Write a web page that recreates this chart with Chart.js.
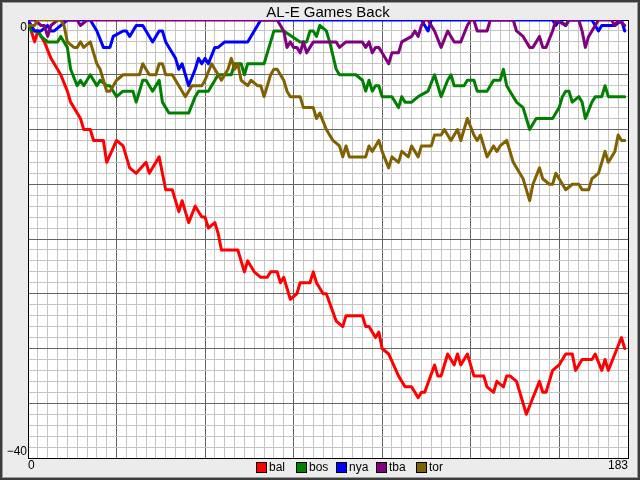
<!DOCTYPE html>
<html>
<head>
<meta charset="utf-8">
<script src="https://cdn.jsdelivr.net/npm/chart.js@4/dist/chart.umd.min.js"></script>
<style>
  html, body { margin: 0; padding: 0; background: #ececec; }
  canvas { display: block; }
</style>
</head>
<body>
<canvas id="gb-chart" width="640" height="480"></canvas>
<script>
// games back per team, [game, games back]
const bal = [[0,0],[1,-1],[2,-2],[3,-1],[5,-2],[7,-3.5],[10,-5],[12,-6.5],[13,-7.5],[16,-9],[17,-10],[19,-10],[20,-11],[23,-11],[24,-13],[27,-11],[29,-11.5],[31,-13.5],[33,-14],[36,-13],[37,-14],[38,-13.5],[40,-12.5],[42,-15.5],[44,-15.5],[46,-17.5],[47,-16.5],[49,-18.5],[51,-17],[53,-18],[54,-18],[55,-19],[57,-18.5],[58,-19.5],[59,-21],[64,-21],[66,-23],[67,-22],[69,-23],[71,-23.5],[73,-23.5],[74,-23],[76,-23],[77,-24],[78,-23.5],[80,-25.5],[82,-25],[83,-24],[86,-24],[87,-23],[88,-24],[90,-25],[91,-25],[94,-27.5],[96,-28],[97,-27],[102,-27],[103,-28],[104,-28],[106,-29],[107,-28.5],[108,-30],[110,-30.5],[113,-32.5],[115,-33.5],[117,-33.5],[119,-34.5],[120,-34],[121,-34],[124,-31.5],[125,-32.5],[126,-32.5],[128,-30.5],[130,-31.5],[131,-30.5],[132,-31.5],[134,-30.5],[136,-32.5],[139,-32.5],[140,-33.5],[142,-34],[143,-33],[145,-33.5],[146,-32.5],[147,-32.5],[149,-33],[152,-36],[154,-34.5],[156,-33],[157,-34],[158,-34],[160,-32],[162,-31.5],[164,-30.5],[166,-30.5],[167,-32],[169,-31],[172,-31],[173,-30.5],[175,-32],[176,-31],[177,-32],[179,-30.5],[181,-29],[182,-30]];
const bos = [[0,0],[1,-1],[2,-1],[3,-1],[4,-1.5],[6,-2],[7,-2],[9,-2],[10,-1.5],[11,-2],[12,-2.5],[13,-4.5],[15,-6],[16,-5.5],[17,-6],[19,-5],[20,-5.5],[21,-6],[22,-5.5],[24,-6],[25,-6],[27,-7],[29,-6.5],[32,-6.5],[33,-7.5],[35,-5.5],[36,-5.5],[37,-6],[38,-6.5],[40,-5.5],[41,-7.5],[43,-8.5],[49,-8.5],[51,-7],[52,-6.5],[53,-6.5],[55,-6.5],[56,-6],[58,-5],[62,-5],[63,-4],[65,-4],[66,-5],[67,-4],[72,-4],[74,-2],[75,-1],[78,-1],[83,-2],[85,-2],[86,-1],[87,-1],[88,-1.5],[89,-0.5],[91,-1],[92,-2],[94,-4.5],[95,-5],[100,-5],[102,-5.5],[103,-6.5],[104,-5.5],[105,-6.5],[106,-6],[107,-6],[108,-7],[111,-7],[113,-8],[114,-7],[115,-7.5],[117,-7.5],[119,-7],[122,-6.5],[124,-5],[125,-6],[126,-7],[128,-5.5],[129,-5],[130,-6],[133,-6],[134,-5.5],[136,-5.5],[137,-6.5],[140,-6.5],[141,-6],[142,-5.5],[144,-5.5],[145,-4.5],[146,-6],[147,-6.5],[149,-7.5],[151,-8],[152,-9],[153,-10],[155,-9],[160,-9],[162,-8],[163,-7],[164,-6.5],[165,-6.5],[166,-7.5],[168,-7],[169,-7.5],[170,-9],[172,-7.5],[173,-7],[175,-7],[176,-6],[177,-7],[182,-7]];
const nya = [[0,0],[1,-0.5],[2,-1],[4,-1],[6,-0.5],[7,-1],[8,-1],[10,-0.5],[12,0],[19,0],[21,-1],[23,-2.5],[25,-2.5],[26,-1.5],[29,-1],[30,-1],[31,-1.5],[33,-0.5],[35,-0.5],[36,-1],[38,-2],[40,-1],[41,-1],[42,-2],[45,-3.5],[46,-4.5],[47,-4],[49,-6],[51,-4.5],[52,-3.5],[53,-4],[54,-3.5],[55,-4],[57,-2.5],[58,-2.5],[60,-2],[67,-2],[68,-1.5],[69,-1],[70,-0.5],[71,0],[120,0],[121,-0.5],[122,-1],[123,0],[160,0],[161,-0.5],[162,0],[164,-0.5],[165,0],[172,0],[174,-1],[175,-0.5],[179,-0.5],[181,0],[182,-1]];
const tba = [[0,0],[2,0],[4,-0.5],[5,-0.5],[6,-1.5],[7,-0.5],[9,0],[15,0],[16,-0.5],[18,0],[76,0],[77,-0.5],[78,-1],[79,-2.5],[80,-2],[81,-2.5],[82,-2.5],[83,-3],[84,-2],[85,-3],[86,-2.5],[87,-2],[94,-2],[95,-2.5],[97,-2],[102,-2],[103,-2.5],[104,-2],[105,-3],[106,-2.5],[107,-2.5],[108,-3],[110,-4],[111,-3],[113,-3],[114,-2],[117,-1.5],[118,-1],[119,-1.5],[120,-0.5],[121,0],[122,0],[123,-0.5],[124,-1],[126,-2.5],[128,-1],[129,-1.5],[130,-2],[132,-2],[134,-0.5],[135,0],[136,0],[137,-1],[140,-1],[141,0],[148,0],[149,-1],[151,-1.5],[153,-2.5],[154,-2.5],[156,-1.5],[157,-2.5],[158,-2.5],[160,-1],[161,0],[164,-0.5],[165,0],[168,0],[169,-1],[170,-2.5],[171,-1.5],[173,-0.5],[174,0],[178,0],[179,-0.5],[180,0],[182,-0.5]];
const tor = [[0,-0.5],[1,-0.5],[2,-0.5],[3,0],[5,0],[7,0],[10,0],[11,-0.5],[12,-2],[14,-2.5],[15,-2.5],[16,-2],[17,-2.5],[19,-2],[20,-3],[21,-4],[22,-4.5],[23,-5.5],[24,-6.5],[25,-6.5],[26,-6],[27,-5.5],[29,-5],[34,-5],[35,-4],[36,-4.5],[37,-5],[39,-5],[40,-4],[41,-4],[42,-5],[44,-5],[46,-6],[48,-7],[50,-6],[51,-6],[52,-6],[53,-6],[54,-5.5],[56,-4],[57,-4.5],[58,-5],[59,-5.5],[61,-4.5],[62,-3.5],[63,-4.5],[64,-4],[65,-5.5],[67,-6],[68,-5.5],[70,-6],[71,-6],[72,-7],[73,-6],[74,-5],[75,-4.5],[76,-4.5],[77,-5],[78,-5.5],[79,-6.5],[80,-7],[82,-7],[83,-7],[84,-8],[87,-8],[88,-9],[89,-8.5],[91,-10],[93,-11],[95,-11.5],[96,-12.5],[97,-11.5],[98,-12.5],[103,-12.5],[104,-11.5],[105,-12],[107,-11],[108,-12],[110,-13.5],[111,-12.5],[113,-13],[114,-12],[116,-12.5],[117,-11.5],[119,-12.5],[120,-11.5],[123,-11.5],[124,-10.5],[126,-10.5],[127,-10],[128,-10.5],[129,-11],[131,-10],[132,-11],[134,-9],[136,-10.5],[137,-11],[138,-10.5],[139,-11.5],[140,-12.5],[142,-11.5],[143,-12],[144,-11.5],[146,-11],[147,-12],[148,-13],[150,-14],[151,-14.5],[153,-16.5],[154,-15],[156,-13.5],[157,-14.5],[159,-15],[160,-15],[161,-14],[162,-14.5],[164,-15.5],[166,-15],[168,-15],[169,-15.5],[171,-15.5],[172,-14.5],[174,-14],[175,-13],[176,-12],[177,-13],[179,-12],[180,-10.5],[181,-11],[182,-11]];

const teamNames = ['bal', 'bos', 'nya', 'tba', 'tor'];
const teamColors = ['#ff0000', '#008000', '#0000ff', '#800080', '#806000'];
const xTickLabels = [0, 183];
const yTickLabels = [0, -40];
const chartTitle = 'AL-E Games Back';

const FONT = '"Liberation Sans", Arial, sans-serif';

const frame = {
  id: 'frame',
  beforeDraw(chart) {
    const c = chart.ctx, a = chart.chartArea;
    c.save();
    c.fillStyle = '#ececec';
    c.fillRect(0, 0, chart.width, chart.height);
    c.strokeStyle = '#3c3c3c';
    c.lineWidth = 2;
    c.strokeRect(1, 1, chart.width - 2, chart.height - 2);
    c.strokeStyle = '#9a9a9a';
    c.lineWidth = 1;
    c.strokeRect(2.5, 2.5, chart.width - 5, chart.height - 5);
    c.fillStyle = '#ffffff';
    c.fillRect(a.left, a.top, a.right - a.left, a.bottom - a.top);
    c.restore();
  },
  beforeDatasetsDraw(chart) {
    const c = chart.ctx, a = chart.chartArea;
    c.save();
    c.strokeStyle = '#000';
    c.lineWidth = 1;
    c.strokeRect(a.left + 0.5, a.top + 0.5, a.right - a.left, a.bottom - a.top);
    c.restore();
  },
  afterDraw(chart) {
    const c = chart.ctx, a = chart.chartArea;
    const xs = chart.scales.x, ys = chart.scales.y;
    c.save();
    c.fillStyle = '#000';
    c.font = '15px ' + FONT;
    c.textAlign = 'center';
    c.textBaseline = 'alphabetic';
    c.fillText(chartTitle, (a.left + a.right) / 2, 17);

    c.font = '12px ' + FONT;
    c.textBaseline = 'middle';
    // y end labels sit inside the range
    c.textAlign = 'right';
    c.fillText(String(yTickLabels[0]), a.left - 1, ys.getPixelForValue(yTickLabels[0]) + 8);
    c.fillText(String(yTickLabels[1]).replace('-', '\u2212'), a.left - 1, ys.getPixelForValue(yTickLabels[1]) - 6);
    // x end labels
    c.textAlign = 'left';
    c.fillText(String(xTickLabels[0]), xs.getPixelForValue(xTickLabels[0]), a.bottom + 8);
    c.textAlign = 'right';
    c.fillText(String(xTickLabels[1]), xs.getPixelForValue(xTickLabels[1]), a.bottom + 8);

    // legend
    c.textAlign = 'left';
    teamNames.forEach((name, i) => {
      const bx = 256 + i * 40, by = 462;
      c.fillStyle = teamColors[i];
      c.fillRect(bx, by, 11, 11);
      c.strokeStyle = '#000';
      c.strokeRect(bx + 0.5, by + 0.5, 10, 10);
      c.fillStyle = '#000';
      c.fillText(name, bx + 13, by + 6);
    });
    c.restore();
  }
};

const teamSeries = [bal, bos, nya, tba, tor];

new Chart(document.getElementById('gb-chart').getContext('2d'), {
  type: 'line',
  data: {
    datasets: teamSeries.map((s, i) => ({
      label: teamNames[i],
      data: s.map(p => ({ x: p[0], y: p[1] })),
      borderColor: teamColors[i],
      backgroundColor: teamColors[i],
      borderWidth: 3,
      borderJoinStyle: 'round',
      borderCapStyle: 'round',
      pointRadius: 0,
      tension: 0,
      fill: false,
      clip: 0,
      order: teamNames.length - i,
    })),
  },
  options: {
    responsive: false,
    animation: false,
    events: [],
    layout: { padding: { left: 28, top: 20, right: 12, bottom: 22 } },
    plugins: {
      legend: { display: false },
      title: { display: false },
      tooltip: { enabled: false },
    },
    scales: {
      x: {
        type: 'linear',
        min: 0,
        max: 183,
        border: { display: false },
        grid: {
          drawTicks: false,
          lineWidth: 1,
          color: ctx => (ctx.tick && ctx.tick.value % 27 === 0) ? '#646464' : '#c4c4c4',
        },
        ticks: { display: false, stepSize: 3, maxTicksLimit: 100 },
      },
      y: {
        min: -40,
        max: 0,
        border: { display: false },
        grid: {
          drawTicks: false,
          lineWidth: 1,
          color: ctx => (ctx.tick && ctx.tick.value % 5 === 0) ? '#646464' : '#c4c4c4',
        },
        ticks: { display: false, stepSize: 1, maxTicksLimit: 100 },
      },
    },
  },
  plugins: [frame],
});
</script>
</body>
</html>
